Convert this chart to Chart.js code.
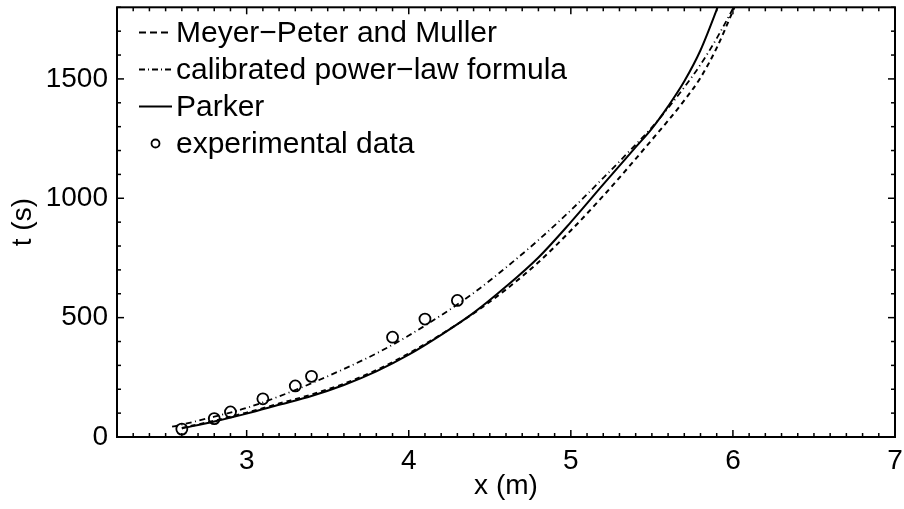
<!DOCTYPE html>
<html>
<head>
<meta charset="utf-8">
<script src="https://cdn.jsdelivr.net/npm/chart.js@4.4.1/dist/chart.umd.min.js"></script>
<style>
  body { margin: 0; background: #fff; }
  #wrap { width: 904px; height: 509px; }
</style>
</head>
<body>
<div id="wrap"><canvas id="chart"></canvas></div>
<script>
// tick labels
var xTicks = [3, 4, 5, 6, 7];
var yTicks = [0, 500, 1000, 1500];

// Meyer-Peter and Muller (dashed)
var xMpm = [2.6, 2.8, 3.0, 3.2, 3.4, 3.6, 3.8, 4.0, 4.2, 4.4, 4.6, 4.8, 5.0, 5.2, 5.4, 5.5, 5.6, 5.7, 5.8, 5.9, 6.0, 6.05];
var tMpm = [38, 68, 102, 140, 178, 223, 280, 350, 430, 518, 618, 732, 865, 1010, 1165, 1245, 1325, 1410, 1505, 1630, 1785, 1865];

// calibrated power-law formula (dash-dot)
var xPow = [2.54, 2.6, 2.8, 3.0, 3.2, 3.4, 3.6, 3.8, 4.0, 4.2, 4.4, 4.6, 4.8, 5.0, 5.2, 5.4, 5.5, 5.6, 5.7, 5.8, 5.9, 6.0, 6.05];
var tPow = [43, 52, 85, 122, 170, 225, 285, 350, 425, 510, 603, 710, 825, 950, 1085, 1225, 1297, 1378, 1465, 1560, 1670, 1795, 1865];

// Parker (solid)
var xParker = [2.6, 2.8, 3.0, 3.2, 3.4, 3.6, 3.8, 4.0, 4.2, 4.4, 4.6, 4.8, 5.0, 5.2, 5.4, 5.5, 5.6, 5.7, 5.8, 5.9, 5.95];
var tParker = [36, 65, 98, 135, 172, 218, 275, 345, 428, 520, 630, 752, 900, 1058, 1214, 1292, 1385, 1490, 1620, 1790, 1885];

// experimental data (circles)
var xExp = [2.6, 2.8, 2.9, 3.1, 3.3, 3.4, 3.9, 4.1, 4.3];
var tExp = [33, 77, 105, 160, 214, 254, 418, 494, 572];

var FONT = "'Liberation Sans', Arial, Helvetica, sans-serif";

function pts(xs, ys) {
  return xs.map(function(v, i) { return {x: v, y: ys[i]}; });
}

// frame, inward ticks on all four sides, and the legend in the upper left
var frameTicks = {
  id: 'frameTicks',
  afterDraw: function(chart) {
    var ctx = chart.ctx, a = chart.chartArea;
    var sx = chart.scales.x, sy = chart.scales.y;
    ctx.save();
    ctx.strokeStyle = '#000';
    ctx.lineWidth = 1.5;
    ctx.setLineDash([]);
    function seg(x1, y1, x2, y2) {
      ctx.beginPath(); ctx.moveTo(x1, y1); ctx.lineTo(x2, y2); ctx.stroke();
    }
    for (var i = 1; i <= 48; i++) {
      var v = 2.2 + i * 0.1;
      var px = sx.getPixelForValue(v);
      var len = Math.abs(v - Math.round(v)) < 1e-6 ? 7 : 4;
      seg(px, a.bottom, px, a.bottom - len);
      seg(px, a.top, px, a.top + len);
    }
    for (var k = 1; k <= 18; k++) {
      var val = k * 100;
      var py = sy.getPixelForValue(val);
      var ylen = val % 500 === 0 ? 7 : 4;
      seg(a.left, py, a.left + ylen, py);
      seg(a.right, py, a.right - ylen, py);
    }
    ctx.lineWidth = 2;
    ctx.strokeRect(a.left, a.top, a.right - a.left, a.bottom - a.top);

    // legend
    var ds = chart.data.datasets;
    var legendDash = [[7, 4], [6, 3, 1, 3], [], []];
    ctx.font = '30px ' + FONT;
    ctx.fillStyle = '#000';
    ctx.textBaseline = 'middle';
    for (var j = 0; j < ds.length; j++) {
      var ly = 32.5 + j * 37;
      ctx.lineWidth = 1.8;
      if (ds[j].showLine) {
        ctx.setLineDash(legendDash[j]);
        seg(139, ly, 172, ly);
      } else {
        ctx.setLineDash([]);
        ctx.beginPath(); ctx.arc(155.5, ly, 4, 0, Math.PI * 2); ctx.stroke();
      }
      ctx.fillText(ds[j].label, 176, ly + 1);
    }
    ctx.restore();
  }
};

var data = {
  datasets: [{
    label: 'Meyer\u2212Peter and Muller',
    data: pts(xMpm, tMpm),
    showLine: true,
    borderColor: '#000',
    borderWidth: 2,
    borderDash: [5, 4],
    cubicInterpolationMode: 'monotone',
    pointRadius: 0
  }, {
    label: 'calibrated power\u2212law formula',
    data: pts(xPow, tPow),
    showLine: true,
    borderColor: '#000',
    borderWidth: 1.8,
    borderDash: [6, 3.5, 1, 3.5],
    cubicInterpolationMode: 'monotone',
    pointRadius: 0
  }, {
    label: 'Parker',
    data: pts(xParker, tParker),
    showLine: true,
    borderColor: '#000',
    borderWidth: 2,
    cubicInterpolationMode: 'monotone',
    pointRadius: 0
  }, {
    label: 'experimental data',
    data: pts(xExp, tExp),
    showLine: false,
    borderColor: '#000',
    pointBorderColor: '#000',
    pointBackgroundColor: 'rgba(0,0,0,0)',
    pointBorderWidth: 1.8,
    pointRadius: 5.5
  }]
};

var config = {
  type: 'scatter',
  data: data,
  plugins: [frameTicks],
  options: {
    responsive: true,
    maintainAspectRatio: false,
    animation: false,
    layout: { padding: { top: 3, right: 9, left: 0, bottom: 0 } },
    plugins: {
      legend: { display: false },
      tooltip: { enabled: false }
    },
    scales: {
      x: {
        type: 'linear',
        min: 2.2,
        max: 7,
        afterBuildTicks: function(s) { s.ticks = xTicks.map(function(v) { return {value: v}; }); },
        afterFit: function(s) { s.height = 72; s.paddingLeft = 0; s.paddingRight = 0; },
        grid: { display: false, drawTicks: false },
        border: { display: false },
        ticks: { color: '#000', font: { size: 28, family: FONT }, padding: 7, maxRotation: 0, autoSkip: false,
                 callback: function(v) { return String(v); } },
        title: { display: true, text: 'x (m)', color: '#000', font: { size: 28, family: FONT }, padding: { top: 0, bottom: 6 } }
      },
      y: {
        type: 'linear',
        min: 0,
        max: 1800,
        afterBuildTicks: function(s) { s.ticks = yTicks.map(function(v) { return {value: v}; }); },
        afterFit: function(s) { s.width = 117; s.paddingTop = 0; s.paddingBottom = 0; },
        grid: { display: false, drawTicks: false },
        border: { display: false },
        ticks: { color: '#000', font: { size: 28, family: FONT }, padding: 9, autoSkip: false,
                 callback: function(v) { return String(v); } },
        title: { display: true, text: 't (s)', color: '#000', font: { size: 28, family: FONT }, padding: { top: 6, bottom: 0 } }
      }
    }
  }
};

var myChart = new Chart(document.getElementById('chart'), config);
</script>
</body>
</html>
